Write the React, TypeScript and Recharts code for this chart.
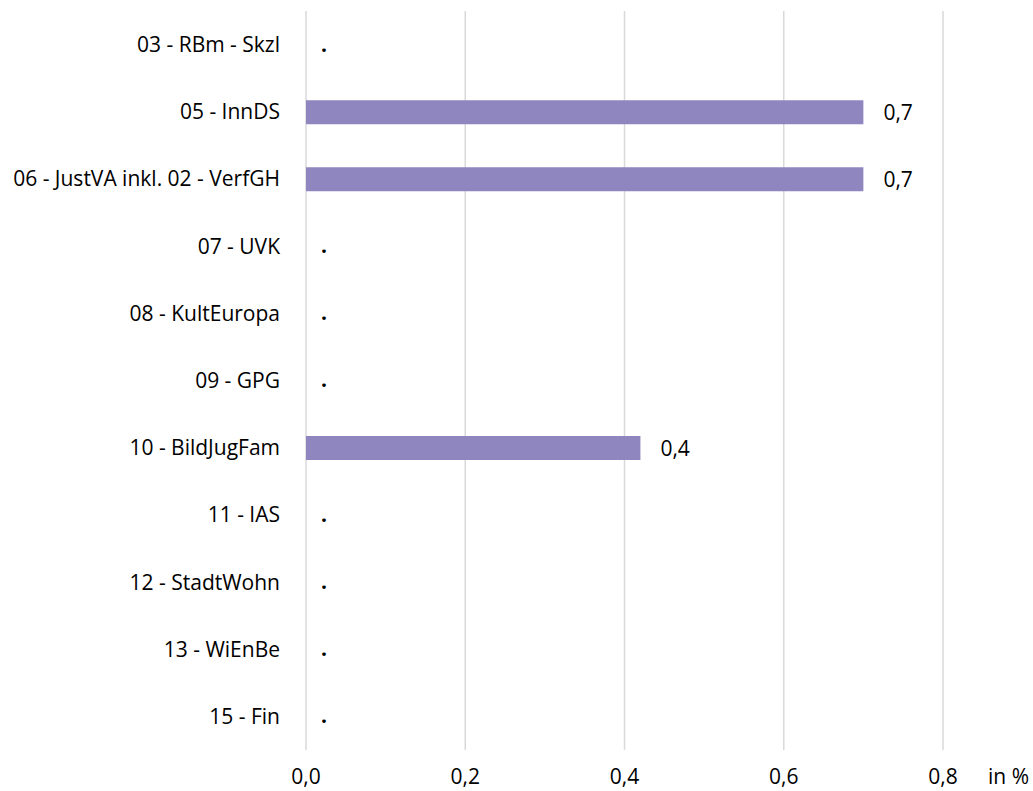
import { Bar, CartesianGrid, ComposedChart, LabelList, Scatter, XAxis, YAxis } from "recharts";

const categories = [
  "03 - RBm - Skzl",
  "05 - InnDS",
  "06 - JustVA inkl. 02 - VerfGH",
  "07 - UVK",
  "08 - KultEuropa",
  "09 - GPG",
  "10 - BildJugFam",
  "11 - IAS",
  "12 - StadtWohn",
  "13 - WiEnBe",
  "15 - Fin",
];

const shares = [0, 0.7, 0.7, 0, 0, 0, 0.42, 0, 0, 0, 0];

const xTicks = [0, 0.2, 0.4, 0.6, 0.8];

const data = categories.map((name, i) => ({ name, value: shares[i] }));

const fmt = (v: number) => v.toFixed(1).replace(".", ",");

const font = "'Open Sans', sans-serif";
const fs = 21;

// Excel shows "." for empty values
const ZeroMark = (props: any) => {
  const { cx, cy, payload } = props;
  if (!payload || payload.value !== 0) return null;
  return (
    <text x={cx + 15} y={cy} dy="0.33em" fill="#000" fontSize={fs} fontWeight={700} fontFamily={font}>
      .
    </text>
  );
};

const UnitLabel = (props: any) => {
  const vb = props.viewBox || {};
  return (
    <text x={vb.x + vb.width + 45} y={vb.y + 34} fill="#000" fontSize={fs} fontFamily={font}>
      in %
    </text>
  );
};

export default function App() {
  return (
    <div
      style={{
        position: "absolute",
        left: 0,
        top: 0,
        width: 1033,
        height: 791,
        overflow: "hidden",
        fontFamily: font,
      }}
    >
      <ComposedChart
        width={1033}
        height={791}
        data={data}
        layout="vertical"
        margin={{ top: 11, right: 90, bottom: 0, left: 0 }}
        barCategoryGap={0}
        style={{ display: "block" }}
      >
        <CartesianGrid horizontal={false} stroke="#d9d9d9" strokeWidth={1.5} />
        <XAxis
          type="number"
          dataKey="value"
          domain={[0, 0.8]}
          ticks={xTicks}
          tickFormatter={fmt}
          axisLine={false}
          tickLine={false}
          tickSize={0}
          tickMargin={19}
          height={41}
          tick={{ fill: "#000", fontSize: fs, fontFamily: font }}
          label={<UnitLabel />}
        />
        <YAxis
          type="category"
          dataKey="name"
          width={306}
          axisLine={false}
          tickLine={false}
          tickSize={0}
          tickMargin={26}
          interval={0}
          tick={{ fill: "#000", fontSize: fs, fontFamily: font }}
        />
        <Bar dataKey="value" fill="#8f86bf" barSize={24} isAnimationActive={false}>
          <LabelList
            dataKey="value"
            position="right"
            offset={20}
            formatter={(v: any) => (Number(v) === 0 ? "" : fmt(Number(v)))}
            style={{ fill: "#000", fontSize: fs, fontFamily: font }}
          />
        </Bar>
        <Scatter dataKey="value" shape={<ZeroMark />} isAnimationActive={false} />
      </ComposedChart>
    </div>
  );
}
